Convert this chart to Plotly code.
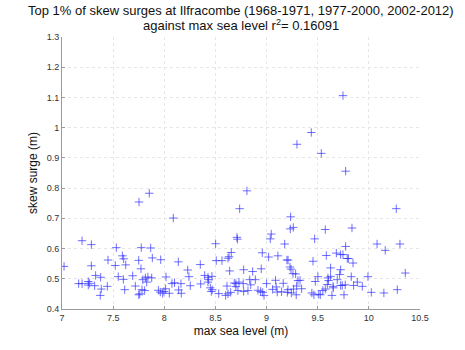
import plotly.graph_objects as go

title_line1 = "Top 1% of skew surges at Ilfracombe (1968-1971, 1977-2000, 2002-2012)"
title_line2 = "against max sea level r<sup>2</sup>= 0.16091"
x_label = "max sea level (m)"
y_label = "skew surge (m)"

x_ticks = [7, 7.5, 8, 8.5, 9, 9.5, 10, 10.5]
x_tick_labels = ["7", "7.5", "8", "8.5", "9", "9.5", "10", "10.5"]
y_ticks = [0.4, 0.5, 0.6, 0.7, 0.8, 0.9, 1.0, 1.1, 1.2, 1.3]
y_tick_labels = ["0.4", "0.5", "0.6", "0.7", "0.8", "0.9", "1", "1.1", "1.2", "1.3"]

max_sea_level = [
    9.747, 9.437, 9.297, 9.535, 9.773, 8.808, 7.853, 7.753, 8.737, 10.268, 8.088, 9.235,
    9.232, 9.261, 9.835, 9.574, 9.046, 8.71, 8.715, 9.036, 9.47, 7.196, 8.502, 9.177,
    10.08, 10.304, 7.287, 9.773, 7.531, 7.775, 7.867, 10.16,
    8.655, 8.958, 9.682, 9.724, 9.747, 9.584, 7.59, 9.111, 8.633, 9.02, 7.883, 8.623,
    9.789, 9.80, 7.603, 7.965, 7.45, 9.199, 9.21, 7.75, 8.508, 8.564, 9.454, 8.137, 9.845,
    8.352, 7.623, 7.521, 7.287, 7.02, 9.229, 9.626, 7.772, 9.239, 8.948, 8.776, 9.724,
    8.229, 8.639, 8.864, 10.356, 9.258, 9.284, 9.714, 7.329, 8.395, 7.691, 8.466, 9.626,
    7.55, 8.241, 9.502, 9.828, 9.991, 8.017, 7.84, 7.378, 8.427, 7.815, 7.877, 9.6,
    7.79, 7.6, 8.835, 8.890, 9.691, 8.434, 9.088, 9.327, 9.307, 9.606, 9.476, 7.257,
    7.828, 8.427, 8.73, 9.887, 8.10, 8.684, 8.70, 9.163, 7.163, 7.196, 8.075, 8.163,
    8.772, 9.0, 8.356, 9.594, 8.845, 9.769, 7.257, 9.724, 9.74, 9.851, 7.319, 8.254,
    8.613, 7.717, 9.294, 7.443, 9.65, 9.936, 8.70, 9.094, 7.27,
    8.45, 9.652, 8.013, 9.343, 7.384, 9.264, 9.574, 10.278, 7.613, 7.782, 8.469, 9.209,
    9.059, 8.14, 7.942, 8.916, 7.808, 8.72, 8.818, 9.55, 7.961, 7.997, 8.46, 8.776,
    8.942, 9.147, 9.104, 8.649, 8.962, 9.203, 10.024, 7.984, 8.049, 8.166, 8.532, 8.623,
    7.76, 9.242, 9.443, 10.147, 9.51, 7.75, 9.29, 9.463, 9.525, 9.639, 9.757, 7.374,
    8.6, 8.975,
]
skew_surge = [
    1.106, 0.984, 0.945, 0.915, 0.856, 0.791, 0.783, 0.754, 0.732, 0.732, 0.701, 0.705,
    0.665, 0.670, 0.668, 0.663, 0.648, 0.637, 0.631, 0.632, 0.632, 0.626, 0.616, 0.615,
    0.615, 0.615, 0.613, 0.607, 0.603, 0.603, 0.602, 0.594,
    0.587, 0.586, 0.585, 0.580, 0.580, 0.577, 0.576, 0.576, 0.573, 0.572, 0.569, 0.568,
    0.567, 0.567, 0.566, 0.563, 0.562, 0.562, 0.562, 0.561, 0.560, 0.560, 0.558, 0.556, 0.552,
    0.547, 0.546, 0.544, 0.543, 0.541, 0.539, 0.536, 0.533, 0.532, 0.533, 0.530, 0.530,
    0.529, 0.526, 0.524, 0.519, 0.517, 0.516, 0.514, 0.511, 0.511, 0.510, 0.508, 0.508,
    0.507, 0.507, 0.507, 0.507, 0.507, 0.506, 0.506, 0.505, 0.505, 0.503, 0.503, 0.503,
    0.497, 0.498, 0.497, 0.497, 0.497, 0.497, 0.495, 0.495, 0.494, 0.494, 0.491, 0.491,
    0.489, 0.489, 0.489, 0.489, 0.487, 0.486, 0.484, 0.485, 0.484, 0.484, 0.484, 0.484,
    0.484, 0.484, 0.483, 0.481, 0.480, 0.480, 0.479, 0.478, 0.478, 0.478, 0.477, 0.477,
    0.476, 0.476, 0.476, 0.475, 0.475, 0.475, 0.474, 0.473, 0.485,
    0.470, 0.470, 0.467, 0.467, 0.466, 0.466, 0.466, 0.464, 0.464, 0.464, 0.464, 0.464,
    0.465, 0.463, 0.462, 0.462, 0.461, 0.461, 0.461, 0.461, 0.456, 0.458, 0.458, 0.458,
    0.458, 0.457, 0.456, 0.455, 0.455, 0.455, 0.455, 0.452, 0.452, 0.452, 0.451, 0.450,
    0.450, 0.453, 0.453, 0.453, 0.449, 0.447, 0.447, 0.447, 0.447, 0.445, 0.447, 0.445,
    0.445, 0.445,
]

fig = go.Figure()
fig.add_trace(go.Scatter(
    x=max_sea_level, y=skew_surge, mode="markers",
    marker=dict(symbol="cross-thin", size=6, line=dict(width=1, color="rgba(50,50,255,0.7)")),
    showlegend=False,
))

font_family = "Liberation Sans, Arial, sans-serif"
plot_top, plot_bottom = 37, 309
plot_h = plot_bottom - plot_top


def paper_y(py):
    return (plot_bottom - py) / plot_h


fig.update_layout(
    width=465, height=350,
    margin=dict(l=62, r=45, t=37, b=41),
    paper_bgcolor="white", plot_bgcolor="white",
    font=dict(family=font_family, color="#222"),
    annotations=[
        dict(text=title_line1, x=0.5, xref="paper", xanchor="center",
             y=paper_y(11), yref="paper", yanchor="middle", showarrow=False,
             font=dict(size=13, color="#111")),
        dict(text=title_line2, x=0.5, xref="paper", xanchor="center",
             y=paper_y(25), yref="paper", yanchor="middle", showarrow=False,
             font=dict(size=13, color="#111")),
    ],
    xaxis=dict(
        range=[7, 10.5], tickvals=x_ticks, ticktext=x_tick_labels,
        showgrid=True, gridcolor="#e6e6e6", griddash="dot", gridwidth=1,
        showline=True, linecolor="#9a9a9a", linewidth=1,
        ticks="inside", ticklen=3, tickcolor="#9a9a9a",
        tickfont=dict(size=9, color="#333"), zeroline=False,
        title=dict(text=x_label, font=dict(size=12, color="#111"), standoff=4),
    ),
    yaxis=dict(
        range=[0.4, 1.3], tickvals=y_ticks, ticktext=y_tick_labels,
        showgrid=True, gridcolor="#e6e6e6", griddash="dot", gridwidth=1,
        showline=True, linecolor="#9a9a9a", linewidth=1,
        ticks="inside", ticklen=3, tickcolor="#9a9a9a",
        tickfont=dict(size=9, color="#333"), zeroline=False,
        title=dict(text=y_label, font=dict(size=12, color="#111"), standoff=6),
    ),
)

fig.write_html("out.html")
